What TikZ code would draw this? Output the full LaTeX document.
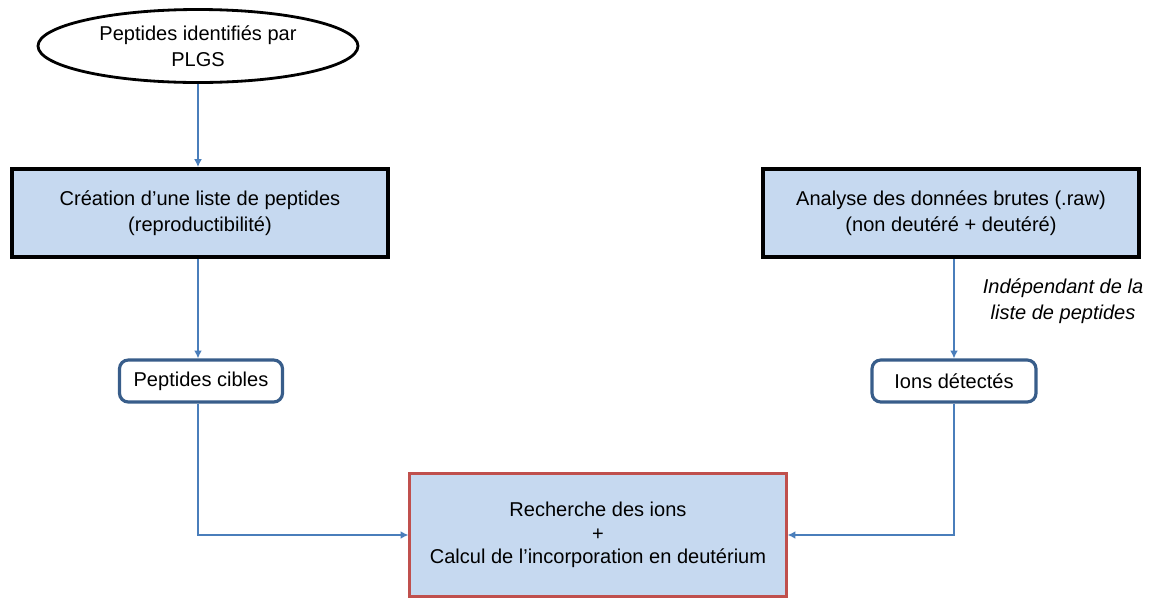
\documentclass[tikz,border=0pt]{standalone}
\usepackage{fontspec}
\setmainfont{Liberation Sans}
\usepackage{xcolor}
\usetikzlibrary{positioning,arrows.meta,shapes.geometric}
\definecolor{boxblue}{HTML}{C6D9F0}
\definecolor{linkblue}{HTML}{4A7EBB}
\definecolor{rimblue}{HTML}{385D8A}
\definecolor{rimred}{HTML}{C0504D}
\tikzset{
  src/.style={ellipse, fill=white, draw=black, line width=1.6pt, minimum width=6.4cm, minimum height=1.46cm, align=center, inner sep=0pt},
  task/.style={rectangle, fill=boxblue, draw=black, line width=2.2pt, minimum width=7.52cm, minimum height=1.76cm, align=center},
  res/.style={rectangle, rounded corners=5pt, fill=white, draw=rimblue, line width=1.8pt, minimum height=0.84cm, align=center},
  goal/.style={rectangle, fill=boxblue, draw=rimred, line width=1.2pt, minimum width=7.54cm, minimum height=2.46cm, align=center, font=\fontsize{11.4}{13.2}\selectfont},
  link/.style={draw=linkblue, line width=1pt, -{Latex[length=4.5pt,width=4.5pt]}},
  remark/.style={font=\fontsize{11.4}{14.5}\selectfont\itshape, align=center, inner sep=1pt},
  flow/.style={font=\fontsize{11.4}{14.5}\selectfont}
}

\begin{document}
\begin{tikzpicture}[flow]
  \useasboundingbox (0,0) rectangle (23,-11.94);

  % Source
  \node[src] (ident) at (3.96,-0.92) {Peptides identifiés par\\PLGS};

  % Left branch
  \node[task] (liste) at (4.0,-4.26) {Création d'une liste de peptides\\(reproductibilité)};
  \node[res, minimum width=3.26cm] (cibles) at (4.02,-7.62) {Peptides cibles};

  % Right branch
  \node[task] (brutes) at (19.02,-4.26) {Analyse des données brutes (.raw)\\(non deutéré + deutéré)};
  \node[res, minimum width=3.28cm] (ions) at (19.08,-7.62) {Ions détectés};
  \node[remark] (indep) at (21.26,-6.02) {Indépendant de la\\liste de peptides};

  % Convergence
  \node[goal] (calcul) at (11.96,-10.7) {Recherche des ions\\+\\Calcul de l'incorporation en deutérium};

  % Links
  \draw[link] (ident) -- (ident |- liste.north);
  \draw[link] (ident |- liste.south) -- (ident |- cibles.north);
  \draw[link] (ident |- cibles.south) |- (calcul.west);
  \draw[link] (brutes.south -| ions) -- (ions.north);
  \draw[link] (ions.south) |- (calcul.east);
\end{tikzpicture}
\end{document}
